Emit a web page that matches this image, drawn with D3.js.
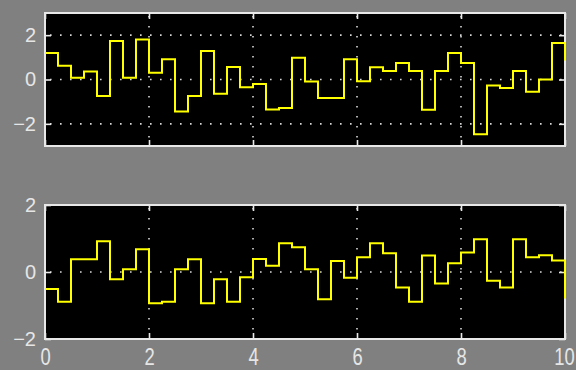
<!DOCTYPE html>
<html>
<head>
<meta charset="utf-8">
<script src="https://cdn.jsdelivr.net/npm/d3@7"></script>
<style>
  html, body { margin: 0; padding: 0; background: #808080; }
  svg { display: block; }
  text { font-family: "Liberation Sans", Arial, sans-serif; fill: #e6e6e6; }
</style>
</head>
<body>
<svg id="scope" width="576" height="370"></svg>
<script>
// Sample period of the discrete signals (seconds) and the time window shown
const sampleTime = 0.25;
const timeDomain = [0, 10];
const timeTicks = [0, 2, 4, 6, 8, 10];

// Channel 1 samples
const signalA = [1.2, 0.62, 0.08, 0.36, -0.74, 1.74, 0.08, 1.8, 0.3, 0.91,
  -1.44, -0.74, 1.29, -0.64, 0.56, -0.35, -0.2, -1.35, -1.29, 0.98,
  -0.09, -0.83, -0.83, 0.91, -0.08, 0.55, 0.38, 0.74, 0.38, -1.36,
  0.38, 1.2, 0.74, -2.47, -0.27, -0.38, 0.38, -0.55, 0.0, 1.65, 0.86];
const rangeA = [-3, 3];
const ticksA = [-2, 0, 2];
const gridA = [-2, 0, 2];

// Channel 2 samples
const signalB = [-0.51, -0.89, 0.38, 0.38, 0.92, -0.22, 0.08, 0.68, -0.93, -0.89,
  0.08, 0.38, -0.93, -0.22, -0.89, -0.16, 0.39, 0.19, 0.86, 0.74,
  0.08, -0.81, 0.33, -0.17, 0.44, 0.86, 0.56, -0.46, -0.89, 0.49,
  -0.34, 0.26, 0.58, 0.98, -0.26, -0.46, 0.98, 0.44, 0.50, 0.34, -0.79];
const rangeB = [-2, 2];
const ticksB = [-2, 0, 2];
const gridB = [0];

const svg = d3.select("#scope");
const left = 45, right = 565;
const x = d3.scaleLinear().domain(timeDomain).range([left, right]);

const panels = [
  { values: signalA, domain: rangeA, ticks: ticksA, grid: gridA, top: 13, bottom: 146, xLabels: false },
  { values: signalB, domain: rangeB, ticks: ticksB, grid: gridB, top: 205, bottom: 339, xLabels: true }
];

const gridColor = "#d8d8d8";
const frameColor = "#e8e8e8";

panels.forEach((p, idx) => {
  const y = d3.scaleLinear().domain(p.domain).range([p.bottom, p.top]);
  const g = svg.append("g");

  // plot area
  g.append("rect")
    .attr("x", left).attr("y", p.top)
    .attr("width", right - left).attr("height", p.bottom - p.top)
    .attr("fill", "#000");

  // dotted grid
  g.selectAll("line.hgrid").data(p.grid).join("line")
    .attr("class", "hgrid")
    .attr("x1", left).attr("x2", right)
    .attr("y1", d => y(d)).attr("y2", d => y(d))
    .attr("stroke", gridColor).attr("stroke-width", 1.6)
    .attr("stroke-dasharray", "1.6,8.4")
    .attr("stroke-dashoffset", -5);
  g.selectAll("line.vgrid").data(timeTicks.slice(1, -1)).join("line")
    .attr("class", "vgrid")
    .attr("x1", d => x(d)).attr("x2", d => x(d))
    .attr("y1", p.top).attr("y2", p.bottom)
    .attr("stroke", gridColor).attr("stroke-width", 1.6)
    .attr("stroke-dasharray", "1.6,8.4")
    .attr("stroke-dashoffset", -3);

  // axes with inward ticks
  const yLeft = g.append("g").attr("transform", `translate(${left},0)`)
    .call(d3.axisLeft(y).tickValues(p.ticks).tickSize(-6).tickPadding(9).tickFormat(d3.format("d")));
  const yRight = g.append("g").attr("transform", `translate(${right},0)`)
    .call(d3.axisRight(y).tickValues(p.ticks).tickSize(-6).tickFormat(""));
  const xTop = g.append("g").attr("transform", `translate(0,${p.top})`)
    .call(d3.axisTop(x).tickValues(timeTicks).tickSize(-6).tickFormat(""));
  const xBottom = g.append("g").attr("transform", `translate(0,${p.bottom})`)
    .call(d3.axisBottom(x).tickValues(timeTicks).tickSize(-6).tickPadding(10)
      .tickFormat(p.xLabels ? d3.format("d") : ""));

  [yLeft, yRight, xTop, xBottom].forEach(a => {
    a.select(".domain").remove();
    a.selectAll(".tick line").attr("stroke", frameColor).attr("stroke-width", 1.6);
  });
  yLeft.selectAll(".tick text")
    .attr("font-size", 20).attr("fill", "#e6e6e6")
    .attr("font-family", "Liberation Sans, Arial, sans-serif");
  xBottom.selectAll(".tick text")
    .attr("font-size", 23).attr("fill", "#e6e6e6")
    .attr("font-family", "Liberation Sans, Arial, sans-serif")
    .attr("transform", d => `translate(${d === timeDomain[1] ? -1 : 0},0) scale(0.8,1)`);

  // frame
  g.append("rect")
    .attr("x", left).attr("y", p.top)
    .attr("width", right - left).attr("height", p.bottom - p.top)
    .attr("fill", "none").attr("stroke", frameColor).attr("stroke-width", 2);

  // signal trace (zero-order hold), drawn over the frame
  const pts = p.values.map((v, i) => [i * sampleTime, v]);
  const clipId = "clip" + idx;
  svg.append("clipPath").attr("id", clipId)
    .append("rect").attr("x", left - 1).attr("y", p.top)
    .attr("width", right - left + 3).attr("height", p.bottom - p.top);
  g.append("path")
    .datum(pts)
    .attr("clip-path", `url(#${clipId})`)
    .attr("fill", "none")
    .attr("stroke", "#ffff00")
    .attr("stroke-width", 2)
    .attr("stroke-linejoin", "miter")
    .attr("d", d3.line().x(d => x(d[0])).y(d => y(d[1])).curve(d3.curveStepAfter));
});
</script>
</body>
</html>
